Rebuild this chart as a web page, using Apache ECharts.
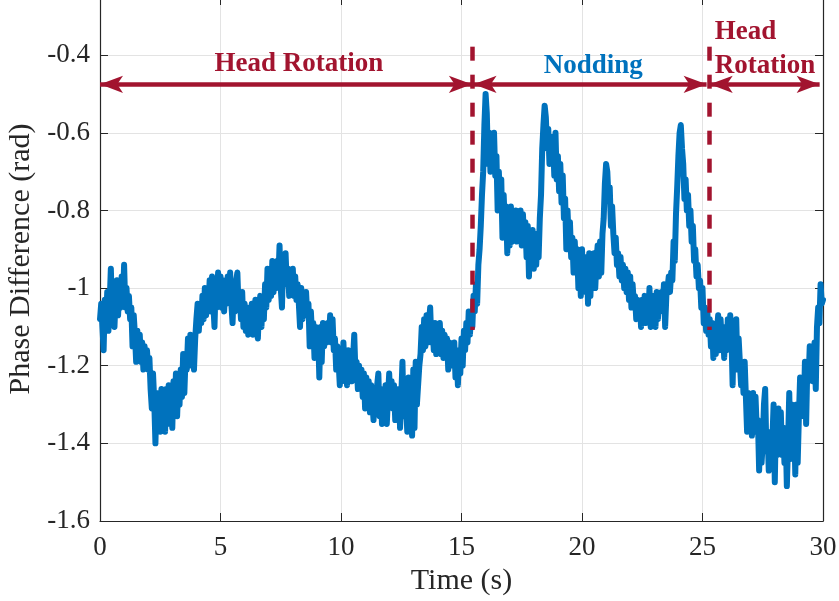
<!DOCTYPE html>
<html>
<head>
<meta charset="utf-8">
<script src="https://cdn.jsdelivr.net/npm/echarts@6.0.0/dist/echarts.min.js"></script>
<style>
  html, body { margin: 0; padding: 0; background: #ffffff; }
  #chart { width: 839px; height: 601px; }
</style>
</head>
<body>
<div id="chart"></div>
<script>
// Phase difference trace, sampled every 0.05 s from 0 s to 30 s (one row per second)
const sampleStep = 0.05;
const phaseRad = [
  -1.08,-1.04,-1.10,-1.16,-1.03,-1.09,-1.01,-1.11,-1.04,-0.95,-1.06,-0.99,-1.10,-1.02,-0.98,-1.07,-1.00,-1.05,-0.97,-1.04,
  -0.94,-1.05,-1.00,-1.06,-1.02,-1.08,-1.05,-1.15,-1.07,-1.12,-1.19,-1.11,-1.17,-1.12,-1.19,-1.14,-1.21,-1.15,-1.20,-1.16,
  -1.21,-1.18,-1.26,-1.31,-1.22,-1.29,-1.40,-1.27,-1.36,-1.28,-1.37,-1.26,-1.34,-1.29,-1.37,-1.26,-1.35,-1.25,-1.33,-1.27,
  -1.36,-1.24,-1.32,-1.22,-1.33,-1.24,-1.30,-1.21,-1.28,-1.17,-1.27,-1.18,-1.21,-1.13,-1.20,-1.12,-1.19,-1.14,-1.21,-1.13,
  -1.08,-1.04,-1.11,-1.05,-1.09,-1.02,-1.08,-1.00,-1.07,-1.01,-1.05,-0.98,-1.06,-0.97,-1.04,-1.10,-0.99,-1.05,-0.96,-1.03,
  -0.97,-1.05,-0.98,-1.06,-1.00,-1.04,-0.97,-1.03,-0.96,-1.04,-1.09,-1.00,-1.06,-0.98,-0.96,-1.05,-1.02,-1.08,-1.01,-1.10,
  -1.04,-1.11,-1.05,-1.12,-1.06,-1.10,-1.04,-1.12,-1.07,-1.03,-1.11,-1.13,-1.05,-1.02,-1.10,-1.03,-1.08,-0.99,-1.05,-0.95,
  -1.03,-0.96,-1.02,-0.93,-1.01,-0.94,-1.00,-0.93,-0.98,-0.89,-1.00,-1.05,-0.93,-0.99,-0.91,-0.99,-0.95,-1.02,-0.96,-1.01,
  -0.95,-1.02,-0.97,-1.03,-0.99,-1.04,-1.10,-1.00,-1.08,-1.01,-1.06,-1.01,-1.07,-1.04,-1.15,-1.06,-1.12,-1.09,-1.18,-1.10,
  -1.17,-1.11,-1.23,-1.10,-1.19,-1.09,-1.15,-1.10,-1.14,-1.09,-1.13,-1.07,-1.14,-1.08,-1.16,-1.13,-1.21,-1.15,-1.19,-1.25,
  -1.16,-1.24,-1.14,-1.22,-1.16,-1.25,-1.16,-1.23,-1.19,-1.24,-1.18,-1.12,-1.22,-1.19,-1.26,-1.20,-1.25,-1.21,-1.28,-1.22,
  -1.31,-1.23,-1.30,-1.24,-1.32,-1.25,-1.29,-1.34,-1.26,-1.31,-1.25,-1.22,-1.33,-1.26,-1.35,-1.27,-1.32,-1.25,-1.35,-1.28,
  -1.22,-1.30,-1.24,-1.31,-1.25,-1.34,-1.27,-1.33,-1.26,-1.36,-1.28,-1.19,-1.33,-1.24,-1.30,-1.37,-1.23,-1.35,-1.26,-1.38,
  -1.21,-1.36,-1.19,-1.30,-1.25,-1.20,-1.17,-1.10,-1.16,-1.08,-1.15,-1.07,-1.14,-1.09,-1.05,-1.14,-1.10,-1.16,-1.09,-1.17,
  -1.10,-1.15,-1.09,-1.17,-1.11,-1.18,-1.12,-1.16,-1.13,-1.21,-1.14,-1.20,-1.15,-1.19,-1.14,-1.23,-1.16,-1.25,-1.17,-1.22,
  -1.13,-1.20,-1.11,-1.16,-1.09,-1.14,-1.06,-1.12,-1.07,-1.10,-1.02,-1.06,-0.99,-1.04,-0.94,-0.90,-0.84,-0.76,-0.70,-0.58,
  -0.50,-0.55,-0.68,-0.60,-0.70,-0.62,-0.69,-0.60,-0.71,-0.66,-0.80,-0.70,-0.78,-0.72,-0.87,-0.76,-0.84,-0.79,-0.91,-0.80,
  -0.89,-0.79,-0.88,-0.81,-0.86,-0.80,-0.88,-0.82,-0.86,-0.80,-0.89,-0.81,-0.88,-0.83,-0.92,-0.84,-0.97,-0.86,-0.93,-0.85,
  -0.95,-0.86,-0.94,-0.88,-0.92,-0.82,-0.76,-0.64,-0.58,-0.53,-0.56,-0.64,-0.59,-0.68,-0.61,-0.66,-0.62,-0.71,-0.60,-0.72,
  -0.66,-0.75,-0.68,-0.78,-0.71,-0.82,-0.77,-0.90,-0.80,-0.88,-0.83,-0.92,-0.87,-0.96,-0.88,-0.95,-0.90,-1.00,-0.92,-1.02,
  -0.90,-1.00,-0.92,-1.01,-0.93,-1.04,-0.91,-1.02,-0.92,-0.98,-0.91,-1.00,-0.93,-0.89,-0.97,-0.88,-0.96,-0.86,-0.82,-0.73,
  -0.68,-0.70,-0.77,-0.74,-0.84,-0.79,-0.86,-0.91,-0.87,-0.94,-0.91,-0.97,-0.92,-0.98,-0.94,-1.00,-0.95,-1.01,-0.96,-1.03,
  -0.97,-1.05,-0.99,-1.04,-1.02,-1.08,-1.03,-1.07,-1.04,-1.10,-1.03,-1.08,-1.02,-1.09,-1.04,-1.07,-1.00,-1.10,-1.03,-1.09,
  -1.02,-1.10,-1.01,-1.08,-1.03,-1.06,-1.01,-1.05,-0.99,-1.10,-1.02,-1.00,-0.97,-1.01,-0.96,-0.98,-0.88,-0.93,-0.81,-0.74,
  -0.66,-0.60,-0.58,-0.64,-0.68,-0.77,-0.72,-0.80,-0.76,-0.84,-0.80,-0.88,-0.84,-0.93,-0.90,-0.97,-0.94,-1.00,-0.98,-1.05,
  -1.00,-1.09,-1.05,-1.11,-1.06,-1.12,-1.08,-1.15,-1.09,-1.18,-1.10,-1.17,-1.11,-1.07,-1.16,-1.08,-1.14,-1.10,-1.18,-1.11,
  -1.16,-1.08,-1.14,-1.07,-1.12,-1.25,-1.10,-1.20,-1.08,-1.21,-1.13,-1.19,-1.25,-1.20,-1.27,-1.19,-1.28,-1.37,-1.27,-1.36,
  -1.29,-1.38,-1.27,-1.37,-1.28,-1.36,-1.34,-1.47,-1.35,-1.45,-1.40,-1.30,-1.26,-1.42,-1.37,-1.47,-1.38,-1.44,-1.39,-1.30,
  -1.50,-1.33,-1.43,-1.31,-1.42,-1.32,-1.43,-1.36,-1.45,-1.37,-1.51,-1.40,-1.27,-1.44,-1.30,-1.43,-1.33,-1.48,-1.30,-1.45,
  -1.33,-1.23,-1.32,-1.24,-1.33,-1.19,-1.35,-1.20,-1.24,-1.15,-1.22,-1.16,-1.24,-1.14,-1.26,-1.10,-1.05,-1.09,-0.99,-1.04,
  -1.03
];

// Axis ranges and tick spacing
const timeRange = [0, 30];
const timeTickStep = 5;
const phaseRange = [-1.6, -0.25];
const phaseTickStep = 0.2;

// Segment boundaries (s) and the phase span of the dashed separators
const segmentBounds = [15.44, 25.26];
const separatorSpan = [-0.378, -1.108];

// Double-headed arrows marking each motion segment
const arrowLevel = -0.475;
const arrowSpans = [[0, 15.43], [15.50, 25.17], [25.30, 29.86]];

// Segment captions: text, anchor (time, phase), alignment, colour key
const segmentCaptions = [
  ['Head Rotation', [8.25, -0.4235], 'center', 'red'],
  ['Nodding', [20.47, -0.4275], 'center', 'blue'],
  ['Head', [25.51, -0.3406], 'left', 'red'],
  ['Rotation', [25.51, -0.4275], 'left', 'red']
];

const BLUE = '#0072BD';
const RED = '#A2142F';
const INK = '#262626';
const SERIF = '"Liberation Serif", "Times New Roman", "DejaVu Serif", serif';

const points = phaseRad.map((v, i) => [Number((i * sampleStep).toFixed(2)), v]);

const chart = echarts.init(document.getElementById('chart'), null, { renderer: 'canvas' });

const tickStyle = { show: true, inside: true, length: 8, lineStyle: { color: INK, width: 1 } };
const axisLineStyle = { show: true, onZero: false, lineStyle: { color: INK, width: 1.2 } };

// Arrow head: width/height of the symbol, tip sitting on each end point
const arrowHeadSize = [13, 23];
const arrowEnd = (t) => ({ coord: [t, arrowLevel], symbol: 'arrow', symbolSize: arrowHeadSize, symbolOffset: [0, 0] });

chart.setOption({
  animation: false,
  backgroundColor: '#ffffff',
  grid: { left: 100, right: 16, top: -3, bottom: 80, outerBoundsMode: 'none', containLabel: false },
  xAxis: [
    {
      type: 'value', min: timeRange[0], max: timeRange[1], interval: timeTickStep,
      position: 'bottom',
      axisLine: axisLineStyle, axisTick: tickStyle,
      axisLabel: { color: INK, fontFamily: SERIF, fontSize: 27, margin: 13 },
      splitLine: { show: true, lineStyle: { color: '#e3e3e3', width: 1 } },
      name: 'Time (s)', nameLocation: 'middle', nameGap: 42,
      nameTextStyle: { color: INK, fontFamily: SERIF, fontSize: 30 }
    },
    {
      type: 'value', min: timeRange[0], max: timeRange[1], interval: timeTickStep,
      position: 'top',
      axisLine: axisLineStyle, axisTick: tickStyle,
      axisLabel: { show: false }, splitLine: { show: false }
    }
  ],
  yAxis: [
    {
      type: 'value', min: phaseRange[0], max: phaseRange[1], interval: phaseTickStep,
      position: 'left',
      axisLine: axisLineStyle, axisTick: tickStyle,
      axisLabel: { color: INK, fontFamily: SERIF, fontSize: 27, margin: 10, showMaxLabel: false },
      splitLine: { show: true, lineStyle: { color: '#e3e3e3', width: 1 } },
      name: 'Phase Difference (rad)', nameLocation: 'middle', nameGap: 62, nameRotate: 90,
      nameTextStyle: { color: INK, fontFamily: SERIF, fontSize: 30 }
    },
    {
      type: 'value', min: phaseRange[0], max: phaseRange[1], interval: phaseTickStep,
      position: 'right',
      axisLine: axisLineStyle, axisTick: tickStyle,
      axisLabel: { show: false }, splitLine: { show: false }
    }
  ],
  series: [
    {
      name: 'phase', type: 'line', data: points, showSymbol: false, symbol: 'none',
      xAxisIndex: 0, yAxisIndex: 0, z: 2, silent: true,
      lineStyle: { color: BLUE, width: 6, cap: 'round', join: 'round' }
    },
    {
      name: 'separators', type: 'line', data: [], xAxisIndex: 0, yAxisIndex: 0, z: 4, silent: true,
      markLine: {
        silent: true, animation: false, symbol: ['none', 'none'],
        label: { show: false }, emphasis: { disabled: true },
        lineStyle: { color: RED, width: 4.5, type: [14, 14], cap: 'butt' },
        data: segmentBounds.map(t => [{ coord: [t, separatorSpan[0]] }, { coord: [t, separatorSpan[1]] }])
      }
    },
    {
      name: 'segments', type: 'line', data: [], xAxisIndex: 0, yAxisIndex: 0, z: 5, silent: true,
      markLine: {
        silent: true, animation: false, symbol: ['arrow', 'arrow'], symbolSize: arrowHeadSize,
        label: { show: false }, emphasis: { disabled: true },
        lineStyle: { color: RED, width: 4.5, type: 'solid' },
        itemStyle: { color: RED },
        data: arrowSpans.map(s => [arrowEnd(s[0]), arrowEnd(s[1])])
      }
    }
  ]
});

// Captions are anchored in data space and placed through the grid's scales
const captionColors = { red: RED, blue: BLUE };
chart.setOption({
  graphic: segmentCaptions.map(c => {
    const p = chart.convertToPixel({ gridIndex: 0 }, c[1]);
    return {
      type: 'text', x: p[0], y: p[1], z: 10, silent: true,
      style: {
        text: c[0], fill: captionColors[c[3]], font: 'bold 27px ' + SERIF,
        align: c[2], verticalAlign: 'middle'
      }
    };
  })
});
</script>
</body>
</html>
